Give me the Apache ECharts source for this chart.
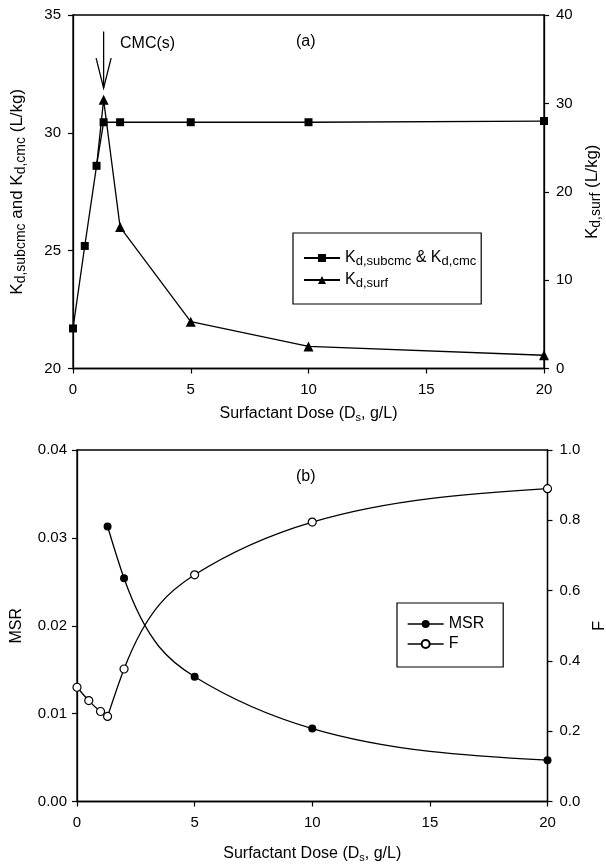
<!DOCTYPE html>
<html>
<head>
<meta charset="utf-8">
<script src="https://cdn.jsdelivr.net/npm/echarts@6/dist/echarts.min.js"></script>
<style>
  html, body { margin: 0; padding: 0; background: #fff; }
  #chart { width: 606px; height: 864px; }
</style>
</head>
<body>
<div id="chart"></div>
<script>
// ---- Panel (a): distribution coefficients vs surfactant dose ----
const doseSub = [0, 0.5, 1, 1.3, 2, 5, 10, 20];
const kdSubCmc = [21.7, 25.2, 28.6, 30.45, 30.45, 30.45, 30.45, 30.5];
// first point joins the sub-CMC curve and carries no marker
const doseSurf = [1, 1.3, 2, 5, 10, 20];
const kdSurf = [22.9, 30.4, 16.0, 5.3, 2.5, 1.5];
const cmcDose = 1.3;

// ---- Panel (b): MSR and F vs surfactant dose ----
const doseMsr = [1.3, 2, 5, 10, 20];
const msr = [0.0313, 0.0254, 0.0142, 0.0083, 0.0047];
const doseF = [0, 0.5, 1, 1.3, 2, 5, 10, 20];
const fraction = [0.325, 0.287, 0.256, 0.242, 0.377, 0.645, 0.795, 0.89];
// the F curve is splined separately on each side of the CMC point (index 3)
const fBreaks = [3];

// axis extents
const doseAxis = { min: 0, max: 20, interval: 5 };
const kdLeftAxis = { min: 20, max: 35, interval: 5 };
const kdRightAxis = { min: 0, max: 40, interval: 10 };
const msrAxis = { min: 0, max: 0.04, interval: 0.01 };
const fAxis = { min: 0, max: 1, interval: 0.2 };

const FONT = '"Liberation Sans", Arial, Helvetica, sans-serif';
const INK = '#000';

const rich = {
  m: { fontSize: 16, fontFamily: FONT, color: INK, lineHeight: 20 },
  sub: { fontSize: 11, fontFamily: FONT, color: INK, lineHeight: 9, verticalAlign: 'bottom' }
};
const richBig = {
  m: { fontSize: 17, fontFamily: FONT, color: INK, lineHeight: 21 },
  sub: { fontSize: 14, fontFamily: FONT, color: INK, lineHeight: 10, verticalAlign: 'bottom' }
};
const richLegend = {
  m: { fontSize: 16, fontFamily: FONT, color: INK, lineHeight: 20 },
  sub: { fontSize: 13, fontFamily: FONT, color: INK, lineHeight: 9, verticalAlign: 'bottom' }
};

function pairs(xs, ys) { return xs.map((x, i) => [x, ys[i]]); }

// Natural cubic spline slopes for one run of points.
function splineSlopes(xs, ys) {
  const n = xs.length;
  if (n < 3) {
    const s = (ys[n - 1] - ys[0]) / (xs[n - 1] - xs[0]);
    return xs.map(() => s);
  }
  const h = [], d = [];
  for (let i = 0; i < n - 1; i++) { h.push(xs[i + 1] - xs[i]); d.push((ys[i + 1] - ys[i]) / h[i]); }
  // tridiagonal solve for second derivatives (M0 = Mn-1 = 0)
  const a = [], b = [], c = [], r = [];
  for (let i = 1; i < n - 1; i++) {
    a.push(h[i - 1]); b.push(2 * (h[i - 1] + h[i])); c.push(h[i]); r.push(6 * (d[i] - d[i - 1]));
  }
  const m = r.length;
  for (let i = 1; i < m; i++) {
    const w = a[i] / b[i - 1];
    b[i] -= w * c[i - 1]; r[i] -= w * r[i - 1];
  }
  const inner = new Array(m);
  for (let i = m - 1; i >= 0; i--) inner[i] = (r[i] - (i < m - 1 ? c[i] * inner[i + 1] : 0)) / b[i];
  const M = [0].concat(inner, [0]);
  const s = [];
  for (let i = 0; i < n - 1; i++) s.push(d[i] - h[i] * (2 * M[i] + M[i + 1]) / 6);
  s.push(d[n - 2] + h[n - 2] * (M[n - 2] + 2 * M[n - 1]) / 6);
  return s;
}

// Per-segment start/end slopes, restarting the spline at each break index.
function segmentSlopes(xs, ys, breaks) {
  const cuts = [0].concat(breaks, [xs.length - 1]);
  const start = [], end = [];
  for (let k = 0; k < cuts.length - 1; k++) {
    const lo = cuts[k], hi = cuts[k + 1];
    const sl = splineSlopes(xs.slice(lo, hi + 1), ys.slice(lo, hi + 1));
    for (let i = lo; i < hi; i++) { start[i] = sl[i - lo]; end[i] = sl[i - lo + 1]; }
  }
  return { start, end };
}

function splineSeries(name, xs, ys, breaks, xi, yi) {
  const sl = segmentSlopes(xs, ys, breaks);
  return {
    name: name, type: 'custom', xAxisIndex: xi, yAxisIndex: yi,
    data: pairs(xs, ys), encode: { x: 0, y: 1 }, z: 2, silent: true,
    renderItem: function (params, api) {
      const i = params.dataIndex;
      if (i >= xs.length - 1) return null;
      const x0 = xs[i], x1 = xs[i + 1], y0 = ys[i], y1 = ys[i + 1];
      const hh = (x1 - x0) / 3;
      const p0 = api.coord([x0, y0]);
      const c0 = api.coord([x0 + hh, y0 + sl.start[i] * hh]);
      const c1 = api.coord([x1 - hh, y1 - sl.end[i] * hh]);
      const p1 = api.coord([x1, y1]);
      return {
        type: 'bezierCurve',
        shape: { x1: p0[0], y1: p0[1], x2: p1[0], y2: p1[1], cpx1: c0[0], cpy1: c0[1], cpx2: c1[0], cpy2: c1[1] },
        style: { stroke: INK, lineWidth: 1.3, fill: null }
      };
    }
  };
}

function valueAxis(ext, extra) {
  return Object.assign({
    type: 'value',
    min: ext.min, max: ext.max, interval: ext.interval,
    axisLine: { show: true, lineStyle: { color: INK, width: 1.3 } },
    axisTick: { show: true, inside: false, length: 5, lineStyle: { color: INK, width: 1.2 } },
    axisLabel: { color: INK, fontSize: 15, fontFamily: FONT, margin: 12 },
    splitLine: { show: false },
    nameLocation: 'middle',
    nameTextStyle: { color: INK, fontSize: 16, fontFamily: FONT, rich: rich }
  }, extra);
}

const lineBase = { color: INK, width: 1.3 };
const bigName = { color: INK, fontSize: 17, fontFamily: FONT, rich: richBig };

const option = {
  animation: false,
  backgroundColor: '#fff',
  grid: [
    { left: 73, right: 62, top: 15, height: 353.5, show: true, borderColor: INK, borderWidth: 1.3, outerBoundsMode: 'none', containLabel: false },
    { left: 77, right: 58.5, top: 450, height: 351.5, show: true, borderColor: INK, borderWidth: 1.3, outerBoundsMode: 'none', containLabel: false }
  ],
  xAxis: [
    valueAxis(doseAxis, {
      gridIndex: 0, position: 'bottom',
      name: '{m|Surfactant Dose (D}{sub|s}{m|, g/L)}', nameGap: 35,
      axisLabel: { color: INK, fontSize: 15, fontFamily: FONT, margin: 14 }
    }),
    valueAxis(doseAxis, {
      gridIndex: 1, position: 'bottom',
      name: '{m|Surfactant Dose (D}{sub|s}{m|, g/L)}', nameGap: 42,
      axisLabel: { color: INK, fontSize: 15, fontFamily: FONT, margin: 14 }
    })
  ],
  yAxis: [
    valueAxis(kdLeftAxis, {
      gridIndex: 0, position: 'left', nameRotate: 90,
      name: '{m|K}{sub|d,subcmc}{m| and K}{sub|d,cmc}{m| (L/kg)}', nameGap: 45,
      nameTextStyle: bigName
    }),
    valueAxis(kdRightAxis, {
      gridIndex: 0, position: 'right', nameRotate: 90,
      name: '{m|K}{sub|d,surf}{m| (L/kg)}', nameGap: 38,
      nameTextStyle: bigName
    }),
    valueAxis(msrAxis, {
      gridIndex: 1, position: 'left', nameRotate: 90,
      name: '{m|MSR}', nameGap: 50,
      axisLabel: { color: INK, fontSize: 15, fontFamily: FONT, margin: 10, formatter: v => v.toFixed(2) }
    }),
    valueAxis(fAxis, {
      gridIndex: 1, position: 'right', nameRotate: 90,
      name: '{m|F}', nameGap: 41,
      axisLabel: { color: INK, fontSize: 15, fontFamily: FONT, margin: 12, formatter: v => v.toFixed(1) }
    })
  ],
  legend: [
    {
      data: ['Kd,subcmc & Kd,cmc', 'Kd,surf'],
      orient: 'vertical', left: 293, top: 233,
      borderColor: INK, borderWidth: 1.2, borderRadius: 0,
      padding: [17, 5, 14, 10],
      itemWidth: 36, itemHeight: 10, itemGap: 4,
      formatter: name => name === 'Kd,surf'
        ? '{m|K}{sub|d,surf}'
        : '{m|K}{sub|d,subcmc}{m| & K}{sub|d,cmc}',
      textStyle: { color: INK, fontFamily: FONT, fontSize: 16, rich: richLegend },
      selectedMode: false
    },
    {
      data: ['MSR', 'F'],
      orient: 'vertical', left: 397, top: 603,
      borderColor: INK, borderWidth: 1.2, borderRadius: 0,
      padding: [13, 19, 15, 10],
      itemWidth: 36, itemHeight: 10, itemGap: 4,
      lineStyle: { opacity: 1, width: 1.3, color: INK },
      textStyle: { color: INK, fontFamily: FONT, fontSize: 16 },
      selectedMode: false
    }
  ],
  series: [
    {
      name: 'Kd,subcmc & Kd,cmc', type: 'line', xAxisIndex: 0, yAxisIndex: 0,
      data: pairs(doseSub, kdSubCmc),
      symbol: 'rect', symbolSize: 8,
      lineStyle: lineBase, itemStyle: { color: INK }, z: 3
    },
    {
      name: 'Kd,surf', type: 'line', xAxisIndex: 0, yAxisIndex: 1,
      data: pairs(doseSurf, kdSurf).map((p, i) => i === 0 ? { value: p, symbol: 'none' } : p),
      symbol: 'triangle', symbolSize: 10,
      lineStyle: lineBase, itemStyle: { color: INK }, z: 3
    },
    splineSeries('MSR curve', doseMsr, msr, [], 1, 2),
    splineSeries('F curve', doseF, fraction, fBreaks, 1, 3),
    {
      name: 'MSR', type: 'line', xAxisIndex: 1, yAxisIndex: 2,
      data: pairs(doseMsr, msr),
      symbol: 'circle', symbolSize: 8,
      lineStyle: { color: INK, width: 1.3, opacity: 0 }, itemStyle: { color: INK }, z: 3
    },
    {
      name: 'F', type: 'line', xAxisIndex: 1, yAxisIndex: 3,
      data: pairs(doseF, fraction),
      symbol: 'circle', symbolSize: 8,
      lineStyle: { color: INK, width: 1.3, opacity: 0 },
      itemStyle: { color: '#fff', borderColor: INK, borderWidth: 1.2 }, z: 3
    }
  ]
};

const chart = echarts.init(document.getElementById('chart'), null, { renderer: 'canvas' });
chart.setOption(option);

// CMC arrow and panel annotations
const tip = chart.convertToPixel({ xAxisIndex: 0, yAxisIndex: 0 }, [cmcDose, 31.9]);
const tail = chart.convertToPixel({ xAxisIndex: 0, yAxisIndex: 0 }, [cmcDose, 34.3]);
const textStyle = { fill: INK, fontFamily: FONT, fontSize: 16 };
chart.setOption({
  graphic: [
    { type: 'line', shape: { x1: tail[0], y1: tail[1], x2: tip[0], y2: tip[1] }, style: { stroke: INK, lineWidth: 1.3 } },
    { type: 'polyline', shape: { points: [[tip[0] - 7.5, tip[1] - 30], [tip[0], tip[1]], [tip[0] + 7.5, tip[1] - 30]] }, style: { stroke: INK, lineWidth: 1.3, fill: null } },
    { type: 'text', left: 120, top: 36, style: Object.assign({ text: 'CMC(s)' }, textStyle) },
    { type: 'text', left: 296, top: 34, style: Object.assign({ text: '(a)' }, textStyle) },
    { type: 'text', left: 296, top: 469, style: Object.assign({ text: '(b)' }, textStyle) }
  ]
});
</script>
</body>
</html>
